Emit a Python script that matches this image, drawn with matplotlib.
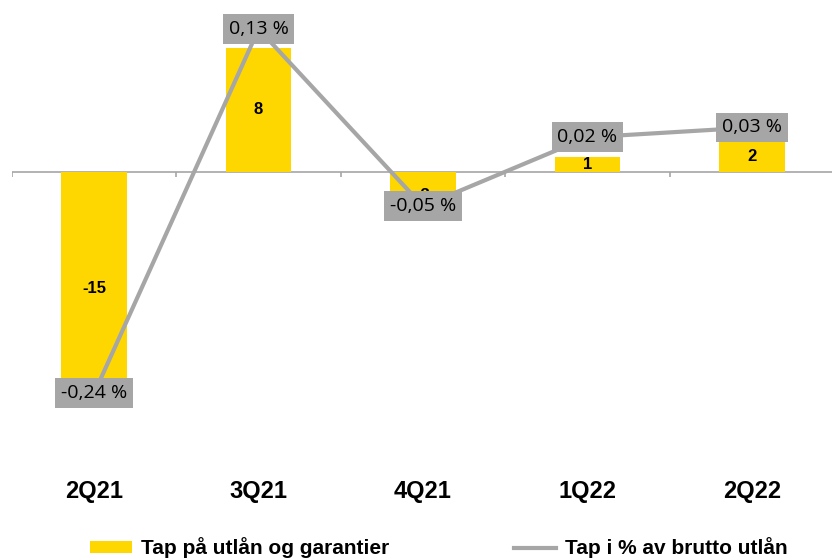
import matplotlib.pyplot as plt
from matplotlib.patches import Patch
from matplotlib.lines import Line2D

quarters = ['2Q21', '3Q21', '4Q21', '1Q22', '2Q22']
losses = [-15, 8, -3, 1, 2]                       # Tap på utlån og garantier (MNOK)
loss_pct = [-0.24, 0.13, -0.05, 0.02, 0.03]       # Tap i % av brutto utlån
pct_labels = ['-0,24 %', '0,13 %', '-0,05 %', '0,02 %', '0,03 %']

YELLOW = '#FFD700'
GREY = '#A6A6A6'
NARROW = ['Liberation Sans Narrow', 'Liberation Sans', 'DejaVu Sans']

W, H = 832, 559
fig = plt.figure(figsize=(W / 100, H / 100), dpi=100)

# axes box in pixels: left 12, right 834, top 10, bottom 440
top_px, bot_px = 10, 440
ax = fig.add_axes([12 / W, 1 - bot_px / H, 822 / W, (bot_px - top_px) / H])

# bar scale: zero at y=172px, 15.5 px per unit
zero_bar, px_bar = 172, 15.5
ax.set_ylim(-(bot_px - zero_bar) / px_bar, (zero_bar - top_px) / px_bar)
x = list(range(len(quarters)))
ax.set_xlim(-0.5, len(quarters) - 0.5)

ax.bar(x, losses, width=0.4, color=YELLOW, zorder=2)
for xi, v in zip(x, losses):
    ax.text(xi, v / 2, f'{v}', ha='center', va='center', fontsize=12,
            fontweight='bold', family=['Liberation Sans', 'DejaVu Sans'], zorder=3)

ax.axhline(0, color=GREY, lw=1.2, zorder=1)
ax.vlines([i - 0.5 for i in range(len(quarters) + 1)], -0.35, 0, color=GREY, lw=1.2, zorder=1)

for s in ax.spines.values():
    s.set_visible(False)
ax.set_yticks([])
ax.set_xticks(x)
ax.set_xticklabels(quarters, family=NARROW, fontweight='bold', fontsize=17)
ax.tick_params(axis='x', length=0, pad=29)

# line on secondary axis: zero at y=157px, 984 px per unit
ax2 = ax.twinx()
zero_ln, px_ln = 157, 984
ax2.set_ylim(-(bot_px - zero_ln) / px_ln, (zero_ln - top_px) / px_ln)
ax2.plot(x, loss_pct, color=GREY, lw=3, solid_capstyle='butt', zorder=4)
for xi, v, lab in zip(x, loss_pct, pct_labels):
    ax2.text(xi, v, lab, ha='center', va='center', fontsize=14, family='Open Sans',
             zorder=5, bbox=dict(boxstyle='square,pad=0.3', fc=GREY, ec='none'))
ax2.set_yticks([])
for s in ax2.spines.values():
    s.set_visible(False)

handles = [Patch(facecolor=YELLOW, edgecolor='none'),
           Line2D([], [], color=GREY, lw=3)]
fig.legend(handles, ['Tap på utlån og garantier', 'Tap i % av brutto utlån'],
           loc='center left', bbox_to_anchor=(90 / W, 1 - 548 / H), ncol=2,
           frameon=False, borderpad=0, borderaxespad=0,
           prop={'family': NARROW, 'weight': 'bold', 'size': 15},
           handlelength=2.0, handleheight=0.45, handletextpad=0.45, columnspacing=6.0)

fig.savefig('out.png', dpi=100)
